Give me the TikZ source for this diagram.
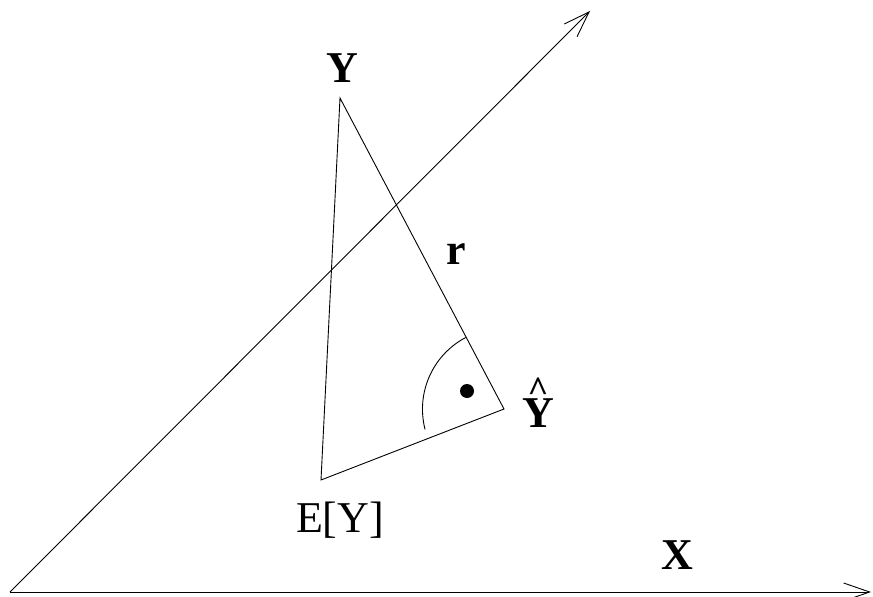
\documentclass[tikz,border=0pt]{standalone}
\usepackage{fontspec}
\setmainfont{Liberation Serif}
\usetikzlibrary{arrows.meta,calc}
\newcommand{\myhatY}{\ooalign{Y\cr\hidewidth\raisebox{26pt}{\fontsize{36}{40}\selectfont\textasciicircum}\hidewidth\cr}}
\begin{document}
\begin{tikzpicture}[x=1pt,y=-1pt,
  ln/.style={line width=0.9pt},
  axis/.style={ln,-{Straight Barb[length=26pt,width=18pt,line width=0.9pt]}},
  lbl/.style={font=\fontsize{44}{50}\selectfont\bfseries, inner sep=0pt},
  lbln/.style={font=\fontsize{44}{50}\selectfont, inner sep=0pt}]
\useasboundingbox (0,0) rectangle (873,597);
\coordinate (O) at (10,592);
\coordinate (xe) at (871,592);
\coordinate (de) at (590,11);
\coordinate (Y) at (340,98);
\coordinate (E) at (321,480);
\coordinate (H) at (504,409);
\draw[axis] (O) -- (xe);
\draw[axis] (O) -- (de);
\draw[ln] (Y) -- (H) -- (E) -- cycle;
\draw[ln] ($(H)+(-38.3,-71.5)$) arc[start angle=-117.8, end angle=-194.5, radius=81];
\fill (467,391) circle[radius=7];
\node[lbl] (ly) at (342,68) {Y};
\node[lbl] (lr) at (456,254) {r};
\node[lbl,anchor=base] (lh) at (538,427) {\myhatY};
\node[lbln,anchor=base] (le) at (340,532) {E[Y]};
\node[lbl] (lx) at (677,555) {X};
\end{tikzpicture}
\end{document}
